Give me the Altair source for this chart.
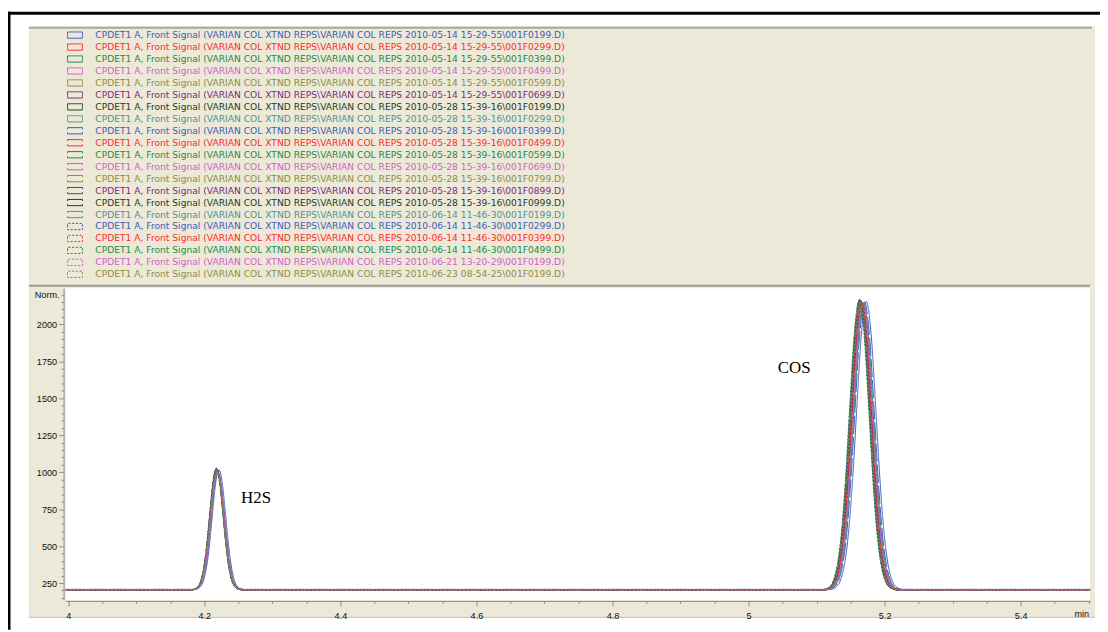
import altair as alt
import pandas as pd

# ---------------- data ----------------
series_names = [
    "CPDET1 A, Front Signal (VARIAN COL XTND REPS\\VARIAN COL REPS 2010-05-14 15-29-55\\001F0199.D)",
    "CPDET1 A, Front Signal (VARIAN COL XTND REPS\\VARIAN COL REPS 2010-05-14 15-29-55\\001F0299.D)",
    "CPDET1 A, Front Signal (VARIAN COL XTND REPS\\VARIAN COL REPS 2010-05-14 15-29-55\\001F0399.D)",
    "CPDET1 A, Front Signal (VARIAN COL XTND REPS\\VARIAN COL REPS 2010-05-14 15-29-55\\001F0499.D)",
    "CPDET1 A, Front Signal (VARIAN COL XTND REPS\\VARIAN COL REPS 2010-05-14 15-29-55\\001F0599.D)",
    "CPDET1 A, Front Signal (VARIAN COL XTND REPS\\VARIAN COL REPS 2010-05-14 15-29-55\\001F0699.D)",
    "CPDET1 A, Front Signal (VARIAN COL XTND REPS\\VARIAN COL REPS 2010-05-28 15-39-16\\001F0199.D)",
    "CPDET1 A, Front Signal (VARIAN COL XTND REPS\\VARIAN COL REPS 2010-05-28 15-39-16\\001F0299.D)",
    "CPDET1 A, Front Signal (VARIAN COL XTND REPS\\VARIAN COL REPS 2010-05-28 15-39-16\\001F0399.D)",
    "CPDET1 A, Front Signal (VARIAN COL XTND REPS\\VARIAN COL REPS 2010-05-28 15-39-16\\001F0499.D)",
    "CPDET1 A, Front Signal (VARIAN COL XTND REPS\\VARIAN COL REPS 2010-05-28 15-39-16\\001F0599.D)",
    "CPDET1 A, Front Signal (VARIAN COL XTND REPS\\VARIAN COL REPS 2010-05-28 15-39-16\\001F0699.D)",
    "CPDET1 A, Front Signal (VARIAN COL XTND REPS\\VARIAN COL REPS 2010-05-28 15-39-16\\001F0799.D)",
    "CPDET1 A, Front Signal (VARIAN COL XTND REPS\\VARIAN COL REPS 2010-05-28 15-39-16\\001F0899.D)",
    "CPDET1 A, Front Signal (VARIAN COL XTND REPS\\VARIAN COL REPS 2010-05-28 15-39-16\\001F0999.D)",
    "CPDET1 A, Front Signal (VARIAN COL XTND REPS\\VARIAN COL REPS 2010-06-14 11-46-30\\001F0199.D)",
    "CPDET1 A, Front Signal (VARIAN COL XTND REPS\\VARIAN COL REPS 2010-06-14 11-46-30\\001F0299.D)",
    "CPDET1 A, Front Signal (VARIAN COL XTND REPS\\VARIAN COL REPS 2010-06-14 11-46-30\\001F0399.D)",
    "CPDET1 A, Front Signal (VARIAN COL XTND REPS\\VARIAN COL REPS 2010-06-14 11-46-30\\001F0499.D)",
    "CPDET1 A, Front Signal (VARIAN COL XTND REPS\\VARIAN COL REPS 2010-06-21 13-20-29\\001F0199.D)",
    "CPDET1 A, Front Signal (VARIAN COL XTND REPS\\VARIAN COL REPS 2010-06-23 08-54-25\\001F0199.D)",
]

series_colors = [
    "#3d5cb8", "#ff2b2b", "#1f8a4a", "#d25fc6", "#8e8e3e", "#7b2c7d", "#1f3d1f", "#4e9494",
    "#3d5cb8", "#ff2b2b", "#1f8a4a", "#d25fc6", "#8e8e3e", "#7b2c7d", "#1f3d1f", "#4e9494",
    "#3d5cb8", "#ff2b2b", "#1f8a4a", "#d25fc6", "#8e8e3e",
]

solid = [1, 0]
broken = [0, 1.5, 18.3, 3, 18.3, 1.5]
dotted = [2.2, 1.6]
series_dashes = [solid] * 8 + [broken] * 8 + [dotted] * 5

baseline_levels = [206, 204, 207, 205, 203, 206, 204, 205, 207, 203, 205,
                   206, 204, 207, 203, 205, 206, 204, 205, 203, 206]

h2s_times = [4.2215, 4.2190, 4.2185, 4.2190, 4.2185, 4.2195, 4.2180, 4.2190, 4.2200, 4.2185, 4.2180,
             4.2195, 4.2190, 4.2185, 4.2180, 4.2190, 4.2175, 4.2185, 4.2175, 4.2190, 4.2180]
h2s_apex = [1015, 1000, 1020, 995, 1010, 1005, 1025, 990, 1000, 1015, 1020,
            1005, 995, 1010, 1025, 1000, 1030, 1010, 1020, 1000, 1015]

cos_times = [5.1730, 5.1670, 5.1650, 5.1680, 5.1660, 5.1690, 5.1640, 5.1680, 5.1705, 5.1660, 5.1645,
             5.1685, 5.1670, 5.1665, 5.1635, 5.1690, 5.1630, 5.1655, 5.1625, 5.1675, 5.1640]
cos_apex = [2155, 2140, 2160, 2135, 2150, 2145, 2165, 2130, 2150, 2145, 2160,
            2140, 2135, 2150, 2165, 2145, 2170, 2150, 2160, 2140, 2155]

# peak outlines: offset from apex (min) -> fraction of peak height
h2s_offsets = [-0.038, -0.032, -0.026, -0.021, -0.017, -0.013, -0.009, -0.0045, 0.0,
               0.0045, 0.009, 0.013, 0.017, 0.021, 0.026, 0.032, 0.038]
h2s_shape = [0.0, 0.006, 0.034, 0.11, 0.236, 0.43, 0.667, 0.904, 1.0,
             0.904, 0.667, 0.43, 0.236, 0.11, 0.034, 0.006, 0.0]

cos_offsets = [-0.055, -0.045, -0.038, -0.032, -0.026, -0.020, -0.014, -0.007, 0.0,
               0.007, 0.014, 0.020, 0.026, 0.032, 0.038, 0.045, 0.055]
cos_shape = [0.0, 0.008, 0.032, 0.088, 0.20, 0.386, 0.627, 0.89, 1.0,
             0.89, 0.627, 0.386, 0.20, 0.088, 0.032, 0.008, 0.0]

run_start, run_end = 3.996, 5.502

x_ticks = [4.0, 4.05, 4.1, 4.15, 4.2, 4.25, 4.3, 4.35, 4.4, 4.45, 4.5, 4.55, 4.6, 4.65, 4.7,
           4.75, 4.8, 4.85, 4.9, 4.95, 5.0, 5.05, 5.1, 5.15, 5.2, 5.25, 5.3, 5.35, 5.4, 5.45, 5.5]
y_ticks = list(range(150, 2201, 50))

peak_labels = ["H2S", "COS"]
peak_label_t = [4.254, 5.043]
peak_label_v = [826, 1703]

# ---------------- build tables ----------------
rows = []
for i, name in enumerate(series_names):
    base = baseline_levels[i]
    pts = [(run_start, base)]
    for off, f in zip(h2s_offsets, h2s_shape):
        pts.append((h2s_times[i] + off, base + f * (h2s_apex[i] - base)))
    for off, f in zip(cos_offsets, cos_shape):
        pts.append((cos_times[i] + off, base + f * (cos_apex[i] - base)))
    pts.append((run_end, base))
    for k, (t, v) in enumerate(pts):
        rows.append({"series": name, "idx": k, "t": t, "v": v})
df = pd.DataFrame(rows)

legend_df = pd.DataFrame({"series": series_names, "row": list(range(len(series_names)))})

W, H = 1032, 314
BEIGE = "#ece9d8"
FONT = "Liberation Sans"
LEGEND_FONT = "DejaVu Sans"

one = pd.DataFrame({"k": [0]})


def rect(x1, x2, y1, y2, color):
    return alt.Chart(one).mark_rect(color=color).encode(
        x=alt.value(x1), x2=alt.value(x2), y=alt.value(y1), y2=alt.value(y2))


def hline(x1, x2, y, color, w):
    return alt.Chart(one).mark_rule(color=color, strokeWidth=w).encode(
        x=alt.value(x1), x2=alt.value(x2), y=alt.value(y))


def vline(x, y1, y2, color, w):
    return alt.Chart(one).mark_rule(color=color, strokeWidth=w).encode(
        x=alt.value(x), y=alt.value(y1), y2=alt.value(y2))


panel = rect(-37, 1037, -264, 332, BEIGE)
plot_bg = rect(0, W, 0, H, "white")
deco = [
    hline(-37, 1034, -262.5, "#aca899", 2),
    hline(-37, W, -2.5, "#9a9a94", 2),
    hline(-37, 1037, 331.5, "#c4c1b3", 1),
    hline(-58, 1042, -277, "black", 3),
    vline(-57, -278.5, 344, "black", 3),
]

color_scale = alt.Scale(domain=series_names, range=series_colors)
dash_scale = alt.Scale(domain=series_names, range=series_dashes)

major_x = "abs(datum.value * 5 - round(datum.value * 5)) < 0.001"
x_axis = alt.Axis(
    values=x_ticks, title=None, grid=False, zindex=1, offset=1,
    labelExpr="abs(datum.value - 5.5) < 0.001 ? 'min' : (" + major_x + " ? format(datum.value, '~g') : '')",
    tickSize={"condition": {"test": major_x, "value": 5}, "value": 2.5},
    labelAlign={"condition": {"test": "datum.value > 5.49", "value": "right"}, "value": "center"},
    domainColor="#8c8c8c", tickColor="#8c8c8c", labelColor="#111111",
    labelFont=FONT, labelFontSize=9.2, labelPadding=6, labelFlush=False, labelOverlap=False,
)
y_axis = alt.Axis(
    values=y_ticks, title=None, grid=False, zindex=1, offset=2, format="d",
    labelExpr="datum.value == 2200 ? 'Norm.' : (datum.value % 250 == 0 ? datum.label : '')",
    tickSize={"condition": {"test": "datum.value % 250 == 0", "value": 5}, "value": 2.5},
    domainColor="#8c8c8c", tickColor="#8c8c8c", labelColor="#111111",
    labelFont=FONT, labelFontSize=9.2, labelPadding=2, labelFlush=False, labelOverlap=False,
)

x_scale = alt.Scale(domain=[run_start, run_end], nice=False, zero=False)
y_scale = alt.Scale(domain=[136, 2244], nice=False, zero=False)

lines = alt.Chart(df).mark_line(strokeWidth=1, interpolate="monotone").encode(
    x=alt.X("t:Q", scale=x_scale, axis=x_axis),
    y=alt.Y("v:Q", scale=y_scale, axis=y_axis),
    color=alt.Color("series:N", scale=color_scale, legend=None),
    strokeDash=alt.StrokeDash("series:N", scale=dash_scale, legend=None),
    order="idx:Q",
)

ann_df = pd.DataFrame({"t": peak_label_t, "v": peak_label_v, "label": peak_labels})
annotations = alt.Chart(ann_df).mark_text(
    align="left", baseline="middle", font="Liberation Serif", fontSize=17, color="black"
).encode(
    x=alt.X("t:Q", scale=x_scale, axis=x_axis),
    y=alt.Y("v:Q", scale=y_scale, axis=None),
    text="label:N")

row_scale = alt.Scale(domain=[0, 20], range=[-255, -14])
legend_symbols = alt.Chart(legend_df).mark_point(
    shape="M-1,0L-1,-0.42L1,-0.42L1,0.42L-1,0.42Z", size=225, filled=False,
    strokeWidth=1, opacity=1
).encode(
    x=alt.value(9.5),
    y=alt.Y("row:Q", scale=row_scale, axis=None),
    color=alt.Color("series:N", scale=color_scale, legend=None),
    strokeDash=alt.StrokeDash("series:N", scale=dash_scale, legend=None),
)
legend_text = alt.Chart(legend_df).mark_text(
    align="left", baseline="middle", font=LEGEND_FONT, fontSize=9.2
).encode(
    x=alt.value(30),
    y=alt.Y("row:Q", scale=row_scale, axis=None),
    color=alt.Color("series:N", scale=color_scale, legend=None),
    text="series:N",
)

chart = alt.layer(panel, plot_bg, *deco, lines, annotations, legend_symbols, legend_text).resolve_scale(
    y="independent"
).properties(
    width=W, height=H,
    autosize=alt.AutoSizeParams(type="none"),
    padding={"left": 58, "top": 280, "right": 10, "bottom": 30},
    background="white",
).configure_view(strokeWidth=0)

chart.save("out.html", embed_options={"renderer": "svg", "actions": False})
